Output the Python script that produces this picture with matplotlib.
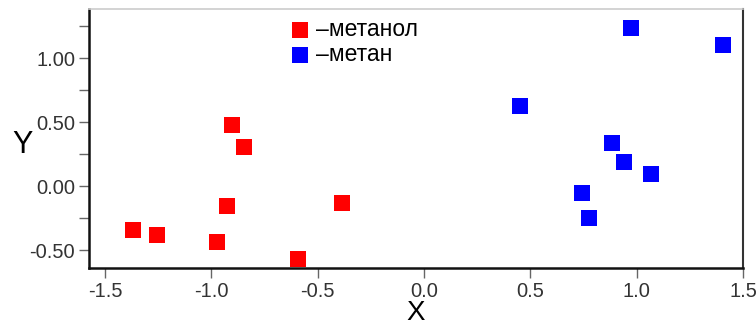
import matplotlib
matplotlib.use("Agg")
import matplotlib.pyplot as plt
from matplotlib.ticker import MultipleLocator, FormatStrFormatter

plt.rcParams['font.family'] = ['Liberation Sans', 'DejaVu Sans']

# Scores of the two groups
methanol_x = [-1.37, -1.254, -0.975, -0.928, -0.904, -0.846, -0.591, -0.384]
methanol_y = [-0.344, -0.383, -0.44, -0.154, 0.477, 0.302, -0.573, -0.135]
methane_x = [0.453, 0.975, 1.404, 0.882, 0.942, 1.067, 0.743, 0.777]
methane_y = [0.625, 1.237, 1.10, 0.338, 0.1875, 0.094, -0.057, -0.247]

labels = ["–метанол", "–метан"]
colors = ["#ff0000", "#0000ff"]

fig = plt.figure(figsize=(7.56, 3.26), dpi=100)
ax = fig.add_axes([89 / 756, 1 - 268 / 326, (743 - 89) / 756, (268 - 9) / 326])

ax.scatter(methanol_x, methanol_y, marker='s', s=118, color=colors[0],
           linewidths=0, label=labels[0], zorder=3)
ax.scatter(methane_x, methane_y, marker='s', s=118, color=colors[1],
           linewidths=0, label=labels[1], zorder=3)

ax.set_xlim(-1.575, 1.5)
ax.set_ylim(-0.64, 1.383)

ax.xaxis.set_major_locator(MultipleLocator(0.5))
ax.xaxis.set_major_formatter(FormatStrFormatter('%.1f'))
ax.yaxis.set_major_locator(MultipleLocator(0.5))
ax.yaxis.set_minor_locator(MultipleLocator(0.25))
ax.yaxis.set_major_formatter(FormatStrFormatter('%.2f'))

ax.tick_params(axis='both', which='both', direction='out', length=7,
               width=1, color='#666666', labelsize=14.5, labelcolor='#333333', pad=3)

ax.spines['left'].set_linewidth(1.8)
ax.spines['left'].set_color('#111111')
ax.spines['bottom'].set_linewidth(1.8)
ax.spines['bottom'].set_color('#111111')
ax.spines['top'].set_linewidth(1.2)
ax.spines['top'].set_color('#cccccc')
ax.spines['right'].set_linewidth(1.5)
ax.spines['right'].set_color('#333333')

ax.set_xlabel('X', fontsize=20, va='center')
ax.xaxis.set_label_coords(0.5, -0.175)
ax.set_ylabel('Y', fontsize=22, rotation=0, va='center', ha='center')
ax.yaxis.set_label_coords(-0.101, 0.475)

ax.legend(loc='upper left', bbox_to_anchor=(0.295, 1.0), frameon=False,
          fontsize=16.5, handletextpad=0.3, handlelength=0.8, labelspacing=0.1,
          borderaxespad=0, markerscale=1.0)

fig.savefig('out.png', dpi=100)
